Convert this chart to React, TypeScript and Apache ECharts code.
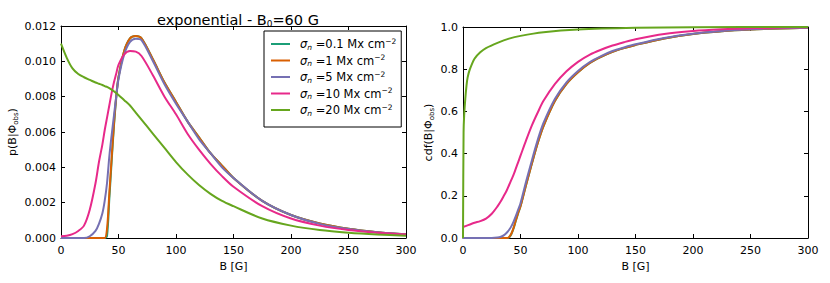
import React, { useEffect, useRef } from "react";
import * as echarts from "echarts";

// B grid [G]
const B = [0, 5, 10, 15, 20, 25, 30, 33, 36, 38, 40, 42, 44, 46, 48, 50, 55, 60, 65, 70, 80, 90, 100, 110, 120, 130, 140, 150, 175, 200, 225, 250, 275, 300];

const sigmaLabels = ["0.1", "1", "5", "10", "20"];
const colors = ["#1b9e77", "#d95f02", "#7570b3", "#e7298a", "#66a61e"];

// p(B|Phi_obs)
const pdfS01 = [0, 0, 0, 0, 0, 0, 0, 0, 0, 0, 0.0001, 0.0022, 0.0043, 0.0063, 0.0079, 0.0091, 0.0106, 0.0113, 0.01143, 0.0113, 0.0101, 0.0088, 0.0077, 0.0066, 0.0057, 0.0048, 0.0041, 0.0034, 0.0021, 0.0013, 0.00082, 0.00052, 0.00033, 0.00021];
const pdfS1 = [0, 0, 0, 0, 0, 0, 0, 0, 0, 0, 0.0005, 0.0025, 0.0045, 0.0064, 0.008, 0.0091, 0.0106, 0.0113, 0.01143, 0.0113, 0.0101, 0.0088, 0.0077, 0.0066, 0.0057, 0.0048, 0.0041, 0.0034, 0.0021, 0.0013, 0.00082, 0.00052, 0.00033, 0.00021];
const pdfS5 = [0, 0, 0, 0, 0, 0.0001, 0.0004, 0.0008, 0.0014, 0.0021, 0.0031, 0.0046, 0.0058, 0.0069, 0.008, 0.009, 0.0104, 0.0111, 0.01128, 0.0112, 0.01, 0.0087, 0.0076, 0.0066, 0.0056, 0.0048, 0.004, 0.0034, 0.0021, 0.0013, 0.0008, 0.00051, 0.00032, 0.0002];
const pdfS10 = [0.0001, 0.00013, 0.00022, 0.0004, 0.0007, 0.0016, 0.0031, 0.0043, 0.0053, 0.0061, 0.0068, 0.0075, 0.0082, 0.0088, 0.0093, 0.0098, 0.0104, 0.01058, 0.01055, 0.0103, 0.0092, 0.008, 0.007, 0.0059, 0.005, 0.0042, 0.0035, 0.0029, 0.0018, 0.0011, 0.0007, 0.00045, 0.0003, 0.0002];
const pdfS20 = [0.011, 0.0102, 0.0096, 0.00928, 0.0091, 0.00895, 0.0088, 0.00873, 0.00866, 0.0086, 0.00855, 0.00848, 0.0084, 0.00831, 0.0082, 0.0081, 0.0078, 0.0075, 0.0071, 0.0067, 0.0059, 0.0051, 0.0043, 0.0036, 0.003, 0.0025, 0.0021, 0.0018, 0.0011, 0.0007, 0.00045, 0.0003, 0.0002, 0.00013];

// cdf(B|Phi_obs)
const cdfS01 = [0, 0, 0, 0, 0, 0, 0, 0, 0, 0, 0.002, 0.018, 0.046, 0.083, 0.118, 0.15, 0.255, 0.355, 0.45, 0.53, 0.65, 0.73, 0.785, 0.828, 0.858, 0.882, 0.9, 0.915, 0.946, 0.967, 0.98, 0.988, 0.993, 0.996];
const cdfS1 = [0, 0, 0, 0, 0, 0, 0, 0, 0, 0, 0.004, 0.02, 0.048, 0.085, 0.12, 0.15, 0.255, 0.355, 0.45, 0.53, 0.65, 0.73, 0.785, 0.828, 0.858, 0.882, 0.9, 0.915, 0.946, 0.967, 0.98, 0.988, 0.993, 0.996];
const cdfS5 = [0, 0, 0, 0, 0, 0, 0.002, 0.006, 0.015, 0.025, 0.038, 0.055, 0.078, 0.105, 0.135, 0.165, 0.27, 0.37, 0.465, 0.545, 0.66, 0.738, 0.792, 0.833, 0.862, 0.886, 0.903, 0.918, 0.948, 0.968, 0.981, 0.989, 0.994, 0.997];
const cdfS10 = [0.052, 0.062, 0.072, 0.08, 0.092, 0.115, 0.15, 0.175, 0.205, 0.225, 0.25, 0.275, 0.3, 0.33, 0.36, 0.39, 0.465, 0.535, 0.595, 0.65, 0.73, 0.79, 0.835, 0.868, 0.892, 0.912, 0.928, 0.942, 0.967, 0.981, 0.989, 0.994, 0.997, 0.999];
const cdfS20B = [0, 0.5, 1, 2, 3, 4, 6, 10, 15, 20, 30, 40, 50, 70, 100, 150, 200, 300];
const cdfS20 = [0, 0.5, 0.58, 0.66, 0.72, 0.76, 0.8, 0.85, 0.88, 0.9, 0.925, 0.945, 0.958, 0.975, 0.988, 0.996, 0.999, 1.0];

const xTicks = { min: 0, max: 300, interval: 50 };
const pdfTicks = { min: 0, max: 0.012, interval: 0.002 };
const cdfTicks = { min: 0, max: 1, interval: 0.2 };

const FONT = "DejaVu Sans";

export default function App() {
  const ref = useRef<HTMLDivElement>(null);
  useEffect(() => {
    if (!ref.current) return;
    const chart = echarts.init(ref.current, undefined, { renderer: "svg" });
    const names = sigmaLabels.map((s) => `σn=${s} Mx cm-2`);
    const pdfData = [pdfS01, pdfS1, pdfS5, pdfS10, pdfS20];
    const cdfData = [cdfS01, cdfS1, cdfS5, cdfS10];

    const axisCommon = {
      axisLine: { show: true, onZero: false, lineStyle: { color: "#000", width: 1 } },
      axisTick: { show: true, inside: true, length: 4, lineStyle: { color: "#000" } },
      splitLine: { show: false },
    };
    const labelStyle = { color: "#000", fontFamily: FONT, fontSize: 11 };
    const mkX = (gridIndex: number, pos: string, showLabel: boolean, name?: string) => ({
      type: "value",
      gridIndex,
      position: pos,
      ...xTicks,
      ...axisCommon,
      axisLabel: { show: showLabel, ...labelStyle, margin: 7 },
      name: name || "",
      nameLocation: "middle",
      nameGap: 22,
      nameTextStyle: { color: "#000", fontFamily: FONT, fontSize: 11 },
    });
    const subRich = {
      t: { fontFamily: FONT, fontSize: 11, color: "#000", lineHeight: 14 },
      sub: { fontFamily: FONT, fontSize: 7, color: "#000", lineHeight: 14, verticalAlign: "bottom", padding: [4, 0, 0, 0] },
    };
    const mkY = (gridIndex: number, pos: string, showLabel: boolean, ticks: any, digits: number, name?: string, gap?: number) => ({
      type: "value",
      gridIndex,
      position: pos,
      ...ticks,
      ...axisCommon,
      axisLabel: { show: showLabel, ...labelStyle, margin: 5, formatter: (v: number) => v.toFixed(digits) },
      name: name || "",
      nameLocation: "middle",
      nameRotate: 90,
      nameGap: gap || 40,
      nameTextStyle: { rich: subRich },
    });

    const mkSeries = (name: string, xi: number, data: number[][], color: string) => ({
      type: "line",
      name,
      xAxisIndex: xi,
      yAxisIndex: xi,
      data,
      smooth: 0.3,
      symbol: "none",
      lineStyle: { width: 2, color },
      itemStyle: { color },
    });

    const series: any[] = [];
    pdfData.forEach((arr, i) => {
      series.push(mkSeries(names[i], 0, B.map((b, j) => [b, arr[j]]), colors[i]));
    });
    cdfData.forEach((arr, i) => {
      series.push(mkSeries(names[i], 2, B.map((b, j) => [b, arr[j]]), colors[i]));
    });
    series.push(mkSeries(names[4], 2, cdfS20B.map((b, j) => [b, cdfS20[j]]), colors[4]));

    const legendRich = {
      s: { fontFamily: FONT, fontSize: 11.5, fontStyle: "italic", color: "#000", lineHeight: 14, padding: [0, 0, 0, 5] },
      n: { fontFamily: FONT, fontSize: 7.5, fontStyle: "italic", color: "#000", lineHeight: 14, verticalAlign: "bottom" },
      t: { fontFamily: FONT, fontSize: 11.5, color: "#000", lineHeight: 14 },
      e: { fontFamily: FONT, fontSize: 7.5, color: "#000", lineHeight: 14, verticalAlign: "top" },
    };

    chart.setOption({
      animation: false,
      backgroundColor: "#fff",
      title: {
        text: "exponential - B{sub|0}=60 G",
        left: 233,
        top: 6,
        textAlign: "center",
        textStyle: {
          fontFamily: FONT,
          fontSize: 14.5,
          fontWeight: "normal",
          color: "#000",
          rich: {
            sub: { fontFamily: FONT, fontSize: 9, color: "#000", verticalAlign: "bottom", lineHeight: 17, padding: [5, 0, 0, 0] },
          },
        },
      },
      legend: {
        left: 264,
        top: 31,
        orient: "vertical",
        backgroundColor: "#fff",
        borderColor: "#000",
        borderWidth: 1,
        borderRadius: 0,
        padding: [6, 5, 10, 7],
        itemGap: 2.5,
        itemWidth: 19,
        itemHeight: 2,
        icon: "rect",
        data: names.map((n) => ({ name: n })),
        formatter: (name: string) => {
          const i = names.indexOf(name);
          return `{s|σ}{n|n}{t| =${sigmaLabels[i]} Mx cm}{e|−2}`;
        },
        textStyle: { rich: legendRich },
        selectedMode: false,
      },
      grid: [
        { left: 61, right: 424, top: 26, bottom: 45 },
        { left: 463, right: 22, top: 27, bottom: 45 },
      ],
      xAxis: [
        mkX(0, "bottom", true, "B [G]"),
        mkX(0, "top", false),
        mkX(1, "bottom", true, "B [G]"),
        mkX(1, "top", false),
      ],
      yAxis: [
        mkY(0, "left", true, pdfTicks, 3, "{t|p(B|Φ}{sub|obs}{t|)}", 42),
        mkY(0, "right", false, pdfTicks, 3),
        mkY(1, "left", true, cdfTicks, 1, "{t|cdf(B|Φ}{sub|obs}{t|)}", 28),
        mkY(1, "right", false, cdfTicks, 1),
      ],
      series,
    });
    return () => chart.dispose();
  }, []);
  return <div ref={ref} style={{ width: 830, height: 283, position: "absolute", left: 0, top: 0 }} />;
}
